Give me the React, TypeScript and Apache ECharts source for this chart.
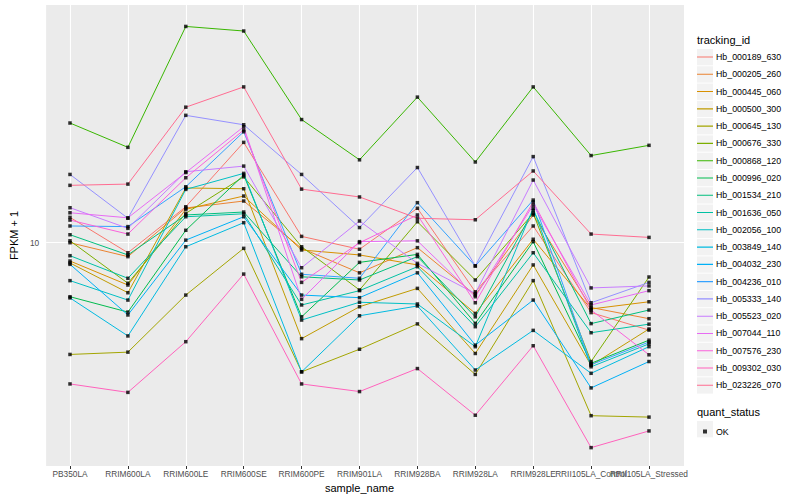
import React, { useEffect, useRef } from "react";
import * as echarts from "echarts";

const categories = [
  "PB350LA", "RRIM600LA", "RRIM600LE", "RRIM600SE", "RRIM600PE", "RRIM901LA",
  "RRIM928BA", "RRIM928LA", "RRIM928LE", "RRII105LA_Control", "RRII105LA_Stressed",
];

const trackingIds = [
  "Hb_000189_630", "Hb_000205_260", "Hb_000445_060", "Hb_000500_300", "Hb_000645_130",
  "Hb_000676_330", "Hb_000868_120", "Hb_000996_020", "Hb_001534_210", "Hb_001636_050",
  "Hb_002056_100", "Hb_003849_140", "Hb_004032_230", "Hb_004236_010", "Hb_005333_140",
  "Hb_005523_020", "Hb_007044_110", "Hb_007576_230", "Hb_009302_030", "Hb_023226_070",
];

const colors = [
  "#F8766D", "#EA8331", "#D89000", "#C09B00", "#A3A500", "#7CAE00", "#39B600", "#00BB4E",
  "#00BF7D", "#00C1A3", "#00BFC4", "#00BAE0", "#00B0F6", "#35A2FF", "#9590FF", "#C77CFF",
  "#E76BF3", "#FA62DB", "#FF62BC", "#FF6C91",
];

// FPKM + 1 per sample (order of categories)
const hb000189_630 = [11.56, 9.43, 12.29, 17.8, 10.36, 9.62, 12.18, 7.53, 11.0, 6.68, 6.04];
const hb000205_260 = [9.99, 9.22, 12.2, 12.7, 9.67, 8.4, 9.71, 7.39, 11.72, 6.88, 6.45];
const hb000445_060 = [8.99, 7.83, 12.11, 13.07, 9.58, 9.31, 8.79, 6.65, 10.19, 6.82, 7.11];
const hb000500_300 = [8.89, 7.49, 13.69, 13.63, 5.75, 6.91, 7.68, 5.28, 8.79, 4.93, 6.08];
const hb000645_130 = [5.25, 5.32, 7.39, 9.67, 4.75, 5.41, 6.26, 4.68, 8.03, 3.69, 3.66];
const hb000676_330 = [10.1, 7.91, 11.83, 14.6, 9.76, 7.61, 11.27, 8.06, 11.83, 5.04, 8.2];
const hb000868_120 = [19.9, 17.3, 34.7, 33.8, 20.3, 16.1, 23.1, 15.9, 24.5, 16.5, 17.5];
const hb000996_020 = [7.32, 6.7, 10.73, 14.75, 6.52, 8.92, 9.34, 6.28, 10.05, 4.99, 5.7];
const hb001534_210 = [10.46, 9.31, 11.72, 11.92, 8.21, 8.06, 9.22, 6.52, 12.02, 6.27, 6.78];
const hb001636_050 = [9.27, 8.14, 11.6, 11.8, 6.98, 7.58, 8.7, 6.16, 9.43, 5.95, 6.25];
const hb002056_100 = [8.03, 7.18, 13.58, 14.89, 6.4, 7.09, 7.02, 5.49, 12.18, 4.89, 5.58];
const hb003849_140 = [7.27, 5.84, 9.76, 11.21, 4.75, 6.56, 6.94, 4.8, 6.03, 4.71, 5.49];
const hb004032_230 = [8.82, 6.59, 10.14, 11.6, 7.39, 7.28, 8.4, 5.54, 7.18, 4.33, 5.04];
const hb004236_010 = [11.0, 10.96, 13.79, 18.92, 8.33, 8.14, 12.58, 8.74, 12.77, 4.95, 5.64];
const hb005333_140 = [14.8, 11.5, 20.8, 19.7, 14.8, 10.9, 15.4, 8.74, 16.4, 7.07, 7.95];
const hb005523_020 = [12.22, 10.85, 15.03, 15.53, 8.65, 11.32, 8.87, 7.46, 14.33, 7.7, 7.79];
const hb007044_110 = [11.87, 11.53, 14.96, 19.48, 7.21, 10.05, 10.1, 7.32, 12.41, 6.98, 7.58];
const hb007576_230 = [11.38, 10.5, 14.52, 19.11, 7.95, 9.99, 11.72, 7.07, 12.63, 6.78, 5.24];
const hb009302_030 = [4.43, 4.22, 5.65, 8.34, 4.43, 4.24, 4.84, 3.7, 5.52, 3.07, 3.38];
const hb023226_070 = [13.9, 14.0, 21.8, 24.5, 13.6, 13.0, 11.5, 11.4, 15.1, 10.5, 10.3];

const seriesValues = [
  hb000189_630, hb000205_260, hb000445_060, hb000500_300, hb000645_130,
  hb000676_330, hb000868_120, hb000996_020, hb001534_210, hb001636_050,
  hb002056_100, hb003849_140, hb004032_230, hb004236_010, hb005333_140,
  hb005523_020, hb007044_110, hb007576_230, hb009302_030, hb023226_070,
];

const yMin = 2.762;
const yMax = 39.26;
const yTickLabels = ["10"];

const FONT = "'Liberation Sans', Arial, Helvetica, sans-serif";
// horizontal key line inside a 16x16 box (tiny corner dots fix the bounding box)
const KEY_ICON =
  "path://M0,0h0.01v0.01h-0.01z M0,7.45h16v1.1h-16z M15.99,15.99h0.01v0.01h-0.01z";

export default function App() {
  const ref = useRef<HTMLDivElement>(null);

  useEffect(() => {
    document.body.style.margin = "0";
    if (!ref.current) return;
    const chart = echarts.init(ref.current, null, { renderer: "svg" });

    const lineSeries = trackingIds.map((id, k) => ({
      name: id,
      type: "line",
      xAxisIndex: 0,
      yAxisIndex: 0,
      data: seriesValues[k],
      symbol: "none",
      showSymbol: false,
      color: colors[k],
      lineStyle: { color: colors[k], width: 1 },
      z: 2,
      silent: true,
    }));

    const points: [number, number][] = [];
    seriesValues.forEach((vals) => vals.forEach((v, i) => points.push([i, v])));

    const keyBgs: any[] = trackingIds.map((_, i) => ({
      type: "rect",
      shape: { x: 697, y: 49 + i * 17.28, width: 16, height: 16.3 },
      style: { fill: "#F2F2F2" },
      z: 0,
    }));
    keyBgs.push({
      type: "rect",
      shape: { x: 697, y: 421, width: 16, height: 16.3 },
      style: { fill: "#F2F2F2" },
      z: 0,
    });

    chart.setOption({
      animation: false,
      backgroundColor: "#FFFFFF",
      textStyle: { fontFamily: FONT },
      grid: [
        { left: 70, right: 151, top: 5, bottom: 34, show: false },
        {
          left: 35, right: 116, top: 5, bottom: 34, show: true,
          backgroundColor: "#EBEBEB", borderWidth: 0, z: 0,
        },
      ],
      xAxis: [
        {
          type: "category",
          gridIndex: 0,
          data: categories,
          boundaryGap: false,
          z: 1,
          axisLine: { show: false },
          axisTick: { show: true, length: 3, lineStyle: { color: "#333333", width: 1 } },
          axisLabel: { interval: 0, fontSize: 8.3, color: "#4D4D4D", margin: 4, fontFamily: FONT },
          splitLine: { show: true, lineStyle: { color: "#FFFFFF", width: 1.1 } },
          name: "sample_name",
          nameLocation: "middle",
          nameGap: 16,
          nameTextStyle: { fontSize: 11, color: "#000000", fontFamily: FONT },
        },
        { type: "value", gridIndex: 1, min: 0, max: 1, show: false },
      ],
      yAxis: [
        { type: "log", gridIndex: 0, min: yMin, max: yMax, show: false },
        {
          type: "log",
          gridIndex: 1,
          min: yMin,
          max: yMax,
          z: 1,
          axisLine: { show: false },
          axisTick: { show: false },
          axisLabel: {
            fontSize: 8.3,
            color: "#4D4D4D",
            margin: 7,
            showMinLabel: false,
            showMaxLabel: false,
            fontFamily: FONT,
            formatter: (v: number) => {
              const s = String(Math.round(v));
              return Math.abs(v - 10) < 1e-6 && yTickLabels.includes(s) ? s : "";
            },
          },
          splitLine: {
            show: true,
            lineStyle: { color: ["rgba(0,0,0,0)", "#FFFFFF", "rgba(0,0,0,0)"], width: 1.1 },
          },
          name: "FPKM + 1",
          nameLocation: "middle",
          nameGap: 18,
          nameTextStyle: { fontSize: 11, color: "#000000", fontFamily: FONT },
        },
      ],
      legend: [
        {
          orient: "vertical",
          left: 697,
          top: 49,
          itemWidth: 16,
          itemHeight: 16,
          itemGap: 1.28,
          padding: 0,
          selectedMode: false,
          icon: KEY_ICON,
          data: trackingIds,
          textStyle: { fontSize: 8.8, color: "#000000", fontFamily: FONT, padding: [0, 0, 0, -2] },
        },
        {
          orient: "vertical",
          left: 703,
          top: 427,
          itemWidth: 4,
          itemHeight: 4,
          padding: 0,
          selectedMode: false,
          icon: "rect",
          data: ["OK"],
          textStyle: { fontSize: 8.8, color: "#000000", fontFamily: FONT, padding: [0, 0, 0, 4] },
        },
      ],
      graphic: [
        ...keyBgs,
        {
          type: "text",
          left: 697,
          top: 34,
          style: { text: "tracking_id", fontSize: 11, fill: "#000000", fontFamily: FONT },
        },
        {
          type: "text",
          left: 697,
          top: 406,
          style: { text: "quant_status", fontSize: 11, fill: "#000000", fontFamily: FONT },
        },
      ],
      series: [
        ...lineSeries,
        {
          name: "OK",
          type: "scatter",
          xAxisIndex: 0,
          yAxisIndex: 0,
          data: points,
          symbol: "rect",
          symbolSize: 3.5,
          itemStyle: { color: "#000000" },
          color: "#000000",
          z: 3,
          silent: true,
        },
      ],
    });

    return () => chart.dispose();
  }, []);

  return <div ref={ref} style={{ width: 800, height: 500 }} />;
}
